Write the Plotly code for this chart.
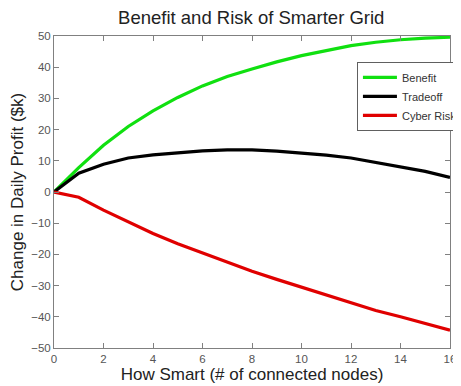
import plotly.graph_objects as go

nodes = list(range(17))
benefit = [0, 7.8, 15, 21, 26, 30.3, 34, 37, 39.4, 41.7, 43.7, 45.4, 46.9, 48, 48.8, 49.3, 49.6]
tradeoff = [0, 6, 8.9, 10.9, 11.9, 12.5, 13.2, 13.5, 13.5, 13.1, 12.5, 11.8, 10.9, 9.5, 8, 6.6, 4.7]
cyber_risk = [0, -1.7, -5.8, -9.6, -13.3, -16.6, -19.6, -22.5, -25.4, -28, -30.5, -33, -35.5, -38, -40, -42.2, -44.3]

series_names = ["Benefit", "Tradeoff", "Cyber Risk"]
series_colors = ["#10e010", "#000000", "#e00000"]

fig = go.Figure()
for name, vals, col in zip(series_names, [benefit, tradeoff, cyber_risk], series_colors):
    fig.add_trace(go.Scatter(x=nodes, y=vals, mode="lines", name=name,
                             line=dict(color=col, width=3.2)))

axis_common = dict(showline=True, linecolor="#808080", linewidth=1, mirror="ticks",
                   ticks="inside", ticklen=5, tickcolor="#808080", showgrid=False,
                   zeroline=False, tickfont=dict(size=11.5, color="#555555"))

fig.update_layout(
    width=453, height=378,
    margin=dict(l=46, r=11, t=28, b=38, autoexpand=False),
    paper_bgcolor="white", plot_bgcolor="white",
    font=dict(family="Liberation Sans, Arial, sans-serif"),
    title=dict(text="Benefit and Risk of Smarter Grid", x=0.537, xanchor="center",
               y=1 - 10 / 378, yanchor="middle", yref="container",
               font=dict(size=18.5, color="#222222")),
    xaxis=dict(range=[0, 16], dtick=2, **axis_common,
               title=dict(text="How Smart (# of connected nodes)", standoff=2,
                          font=dict(size=17, color="#222222"))),
    yaxis=dict(range=[-50, 50], dtick=10, **axis_common,
               title=dict(text="Change in Daily Profit ($k)", standoff=4,
                          font=dict(size=17, color="#222222"))),
    legend=dict(x=0.765, y=0.917, xanchor="left", yanchor="top",
                bgcolor="white", bordercolor="#606060", borderwidth=1,
                font=dict(size=11, color="#333333"), itemwidth=34,
                tracegroupgap=0),
    showlegend=True,
)

fig.write_html("out.html")
